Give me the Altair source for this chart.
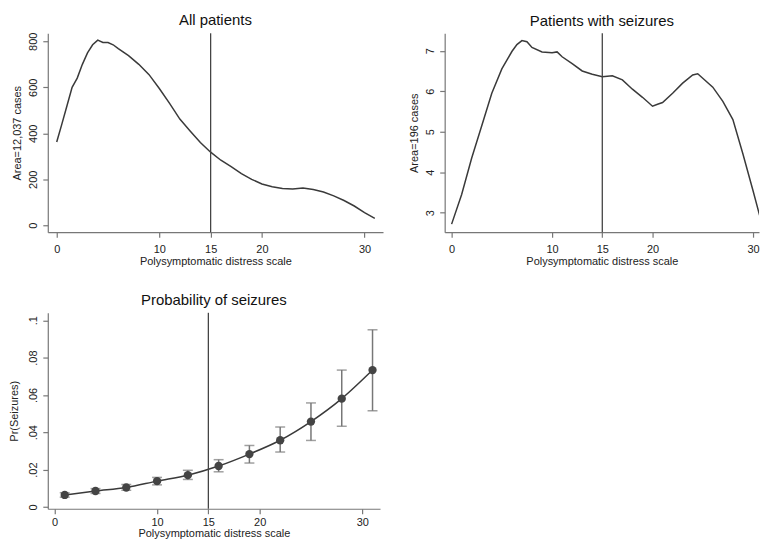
import altair as alt
import pandas as pd

# Panel 1: All patients (density scaled to counts)
all_x = [0, 0.5, 1, 1.5, 2, 2.5, 3, 3.5, 4, 4.5, 5, 5.5, 6, 7, 8, 9, 10, 11, 12, 13, 14, 15,
         16, 17, 18, 19, 20, 21, 22, 23, 24, 25, 26, 27, 28, 29, 30, 31]
all_y = [362, 440, 520, 600, 640, 700, 750, 785, 805, 795, 795, 785, 768, 738, 700, 655, 595,
         530, 462, 410, 360, 318, 283, 255, 225, 200, 180, 168, 160, 158, 162, 156, 145, 128,
         108, 84, 55, 30]

# Panel 2: Patients with seizures
sz_x = [0, 1, 2, 3, 4, 5, 6, 6.5, 7, 7.5, 8, 9, 10, 10.5, 11, 12, 13, 14, 15, 16, 17, 18, 19,
        20, 20.5, 21, 22, 23, 24, 24.5, 25, 26, 27, 28, 29, 30, 30.7, 31.2]
sz_y = [2.72, 3.45, 4.35, 5.15, 5.95, 6.55, 6.98, 7.15, 7.25, 7.22, 7.08, 6.97, 6.95, 6.97,
        6.85, 6.68, 6.5, 6.42, 6.36, 6.38, 6.28, 6.05, 5.85, 5.63, 5.68, 5.72, 5.95, 6.2, 6.4,
        6.43, 6.32, 6.1, 5.75, 5.3, 4.45, 3.55, 2.9, 2.5]

# Panel 3: Probability of seizures with confidence intervals
pr_x = [1, 4, 7, 10, 13, 16, 19, 22, 25, 28, 31]
pr_y = [0.0064, 0.0085, 0.0104, 0.0138, 0.0170, 0.0219, 0.0283, 0.0357, 0.0457, 0.0580, 0.0733]
pr_lo = [0.0052, 0.0072, 0.0089, 0.0118, 0.0147, 0.0188, 0.0235, 0.0294, 0.0356, 0.0432, 0.0515]
pr_hi = [0.0076, 0.0098, 0.0120, 0.0158, 0.0196, 0.0253, 0.0329, 0.0428, 0.0557, 0.0733, 0.0949]
pr_ticks = [0, 0.02, 0.04, 0.06, 0.08, 0.1]

x_ticks = [0, 10, 15, 20, 30]
cutoff = 15
xtitle = "Polysymptomatic distress scale"

FONT = "Liberation Sans"
LINE = "#3a3a3a"

df1 = pd.DataFrame({"x": all_x, "y": all_y})
df2 = pd.DataFrame({"x": sz_x, "y": sz_y})
df3 = pd.DataFrame({"x": pr_x, "y": pr_y, "lo": pr_lo, "hi": pr_hi})


def xaxis(lpad=6, tpad=1):
    return alt.Axis(values=x_ticks, title=xtitle, grid=False, labelAngle=0,
                    labelPadding=lpad, titlePadding=tpad, labelOverlap=False)


def yaxis(vals, title, tpad=5, expr=None):
    kw = dict(values=vals, title=title, grid=False, labelAngle=270, labelOverlap=False,
              labelAlign="center", labelBaseline="bottom", labelPadding=4, titlePadding=tpad)
    if expr:
        kw["labelExpr"] = expr
    return alt.Axis(**kw)


def vline():
    return alt.Chart(pd.DataFrame({"x": [cutoff]})).mark_rule(
        color="#444", strokeWidth=1.3).encode(x="x:Q")


p1 = alt.layer(
    alt.Chart(df1).mark_line(color=LINE, strokeWidth=1.5).encode(
        x=alt.X("x:Q", scale=alt.Scale(domain=[-0.87, 31.8], nice=False, zero=False), axis=xaxis()),
        y=alt.Y("y:Q", scale=alt.Scale(domain=[-30, 835], nice=False, zero=False),
                axis=yaxis([0, 200, 400, 600, 800], "Area=12,037 cases")),
    ),
    vline(),
).properties(width=337, height=200,
             title=alt.TitleParams("All patients", frame="group", anchor="middle"))

p2 = alt.layer(
    alt.Chart(df2).mark_line(color=LINE, strokeWidth=1.5, clip=True).encode(
        x=alt.X("x:Q", scale=alt.Scale(domain=[-0.69, 30.6], nice=False, zero=False), axis=xaxis()),
        y=alt.Y("y:Q", scale=alt.Scale(domain=[2.52, 7.43], nice=False, zero=False),
                axis=yaxis([3, 4, 5, 6, 7], "Area=196 cases")),
    ),
    vline(),
).properties(width=316, height=200,
             title=alt.TitleParams("Patients with seizures", frame="group", anchor="middle"))

ax3 = yaxis(pr_ticks, "Pr(Seizures)", tpad=8,
            expr="replace(format(datum.value, '.2~f'), /^0\\./, '.')")
base3 = alt.Chart(df3)
xs3 = alt.X("x:Q", scale=alt.Scale(domain=[-0.65, 31.73], nice=False, zero=False),
            axis=xaxis(lpad=3, tpad=0))
ys3 = alt.Scale(domain=[-0.001, 0.104], nice=False, zero=False)
p3 = alt.layer(
    base3.mark_rule(color="#777", strokeWidth=1.5).encode(
        x=xs3, y=alt.Y("lo:Q", scale=ys3, axis=ax3), y2="hi:Q"),
    base3.mark_tick(color="#777", size=10, thickness=1.5, orient="horizontal").encode(
        x=xs3, y=alt.Y("lo:Q", scale=ys3, axis=ax3)),
    base3.mark_tick(color="#777", size=10, thickness=1.5, orient="horizontal").encode(
        x=xs3, y=alt.Y("hi:Q", scale=ys3, axis=ax3)),
    base3.mark_line(color=LINE, strokeWidth=1.5, interpolate="monotone").encode(
        x=xs3, y=alt.Y("y:Q", scale=ys3, axis=ax3)),
    base3.mark_circle(color="#444", size=70, opacity=1).encode(
        x=xs3, y=alt.Y("y:Q", scale=ys3, axis=ax3)),
    vline(),
).properties(width=334, height=197,
             title=alt.TitleParams("Probability of seizures", frame="group", anchor="middle"))

chart = alt.vconcat(
    alt.hconcat(p1, p2, spacing=25),
    p3,
    spacing=27,
).properties(padding={"left": 0, "top": 3, "right": 0, "bottom": 0}).configure_view(
    stroke=None
).configure_axis(
    labelFont=FONT, titleFont=FONT, labelFontSize=11, titleFontSize=11,
    labelColor="#222", titleColor="#222", titleFontWeight="normal",
    domainColor="#777", tickColor="#777", tickSize=5, domainWidth=1.2, tickWidth=1.2,
).configure_title(
    font=FONT, fontSize=15, fontWeight="normal", color="#111", offset=0
)

chart.save("out.html", embed_options={"renderer": "svg", "actions": False})
